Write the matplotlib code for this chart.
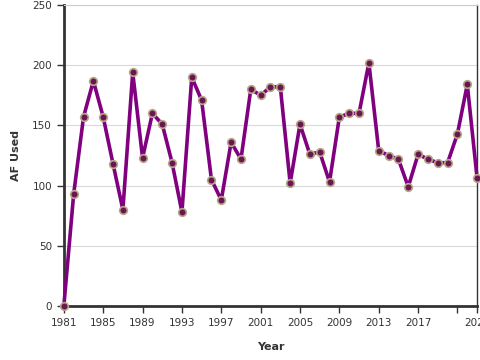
import matplotlib
matplotlib.use('Agg')
import matplotlib.pyplot as plt

years = list(range(1981, 2024))
af_used = [0, 93, 157, 187, 157, 118, 80, 194, 123, 160,
           151, 119, 78, 190, 171, 105, 88, 136, 122, 180,
           175, 182, 182, 102, 151, 126, 128, 103, 157, 160,
           160, 202, 129, 125, 122, 99, 126, 122, 119, 119,
           143, 184, 106]
xticks = list(range(1981, 2022, 4)) + [2023]
xlabels = [str(y) for y in range(1981, 2018, 4)] + ['', '2023']
yticks = [0, 50, 100, 150, 200, 250]

fig = plt.figure(figsize=(4.8, 3.6), dpi=100)
ax = fig.add_axes([0.133, 0.15, 0.861, 0.836])

ax.plot(years, af_used, color='#800080', linewidth=2.6, marker='o', markersize=5.5,
        markerfacecolor='#6a1650', markeredgecolor='#b8a88a', markeredgewidth=1.2,
        clip_on=False, zorder=3)

ax.set_xlim(1981, 2023)
ax.set_ylim(0, 250)
ax.set_xticks(xticks)
ax.set_xticklabels(xlabels)
ax.set_yticks(yticks)
ax.yaxis.grid(True, color='#d9d9d9', linewidth=0.8)
ax.set_axisbelow(True)

for side in ['left', 'bottom']:
    ax.spines[side].set_linewidth(2)
    ax.spines[side].set_color('#333333')
ax.spines['right'].set_linewidth(1)
ax.spines['right'].set_color('#333333')
ax.spines['top'].set_linewidth(0.8)
ax.spines['top'].set_color('#cccccc')

ax.tick_params(axis='both', labelsize=7.5, colors='#333333', length=5, width=1)
ax.set_xlabel('Year', fontsize=8, fontweight='bold', color='#333333', labelpad=10)
ax.set_ylabel('AF Used', fontsize=8, fontweight='bold', color='#333333', labelpad=8)

fig.savefig('out.png', dpi=100)
